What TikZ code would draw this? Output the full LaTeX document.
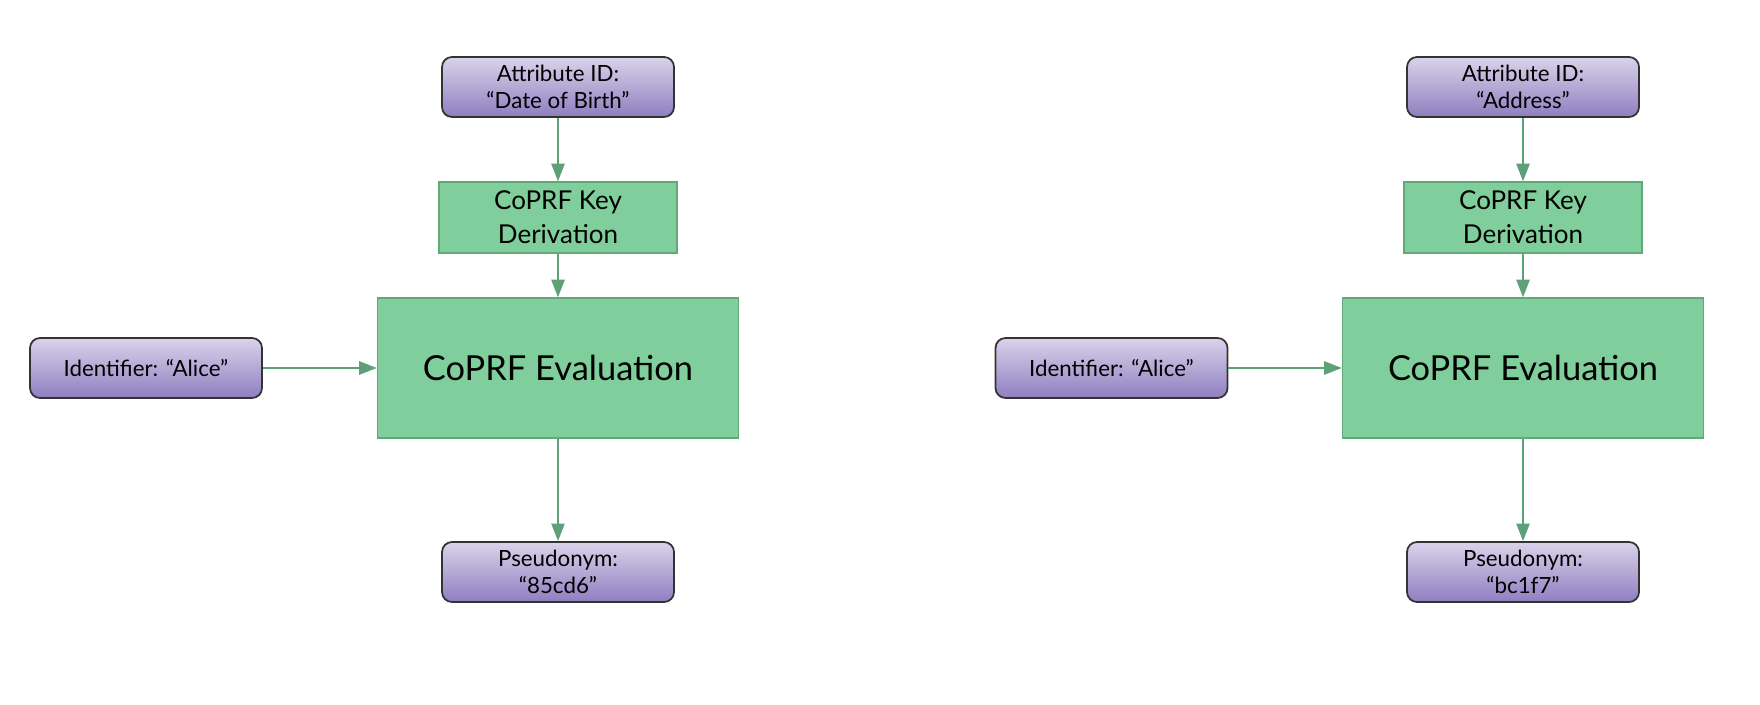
\documentclass[tikz,border=0pt]{standalone}
\usepackage{fontspec}
\setmainfont{Lato}
\usetikzlibrary{arrows.meta}
\definecolor{lavtop}{RGB}{218,211,234}
\definecolor{lavbot}{RGB}{143,126,192}
\definecolor{boxgreen}{RGB}{127,206,155}
\definecolor{edgegreen}{RGB}{96,170,122}
\definecolor{arrowgreen}{RGB}{94,160,120}
\begin{document}
\begin{tikzpicture}[
	databox/.style={rectangle, rounded corners=0.2cm, draw=black!80, line width=1pt,
		top color=lavtop, bottom color=lavbot, minimum width=4.64cm, minimum height=1.2cm,
		align=center, font=\fontsize{12.7}{15}\selectfont, inner sep=0pt},
	keybox/.style={rectangle, draw=edgegreen, line width=0.8pt, fill=boxgreen,
		minimum width=4.76cm, minimum height=1.42cm, align=center,
		font=\fontsize{14.8}{19.5}\selectfont, inner sep=0pt},
	evalbox/.style={rectangle, draw=edgegreen, line width=0.8pt, fill=boxgreen,
		minimum width=7.22cm, minimum height=2.8cm, font=\fontsize{19.6}{23}\selectfont, inner sep=0pt},
	flow/.style={draw=arrowgreen, line width=1.1pt, -{Triangle[length=10pt, width=7.5pt]}}]
	\useasboundingbox (0,0) rectangle (35.2,14.08);
	% left column
	\node (A1) at (11.16, 12.34)	[databox]	{Attribute ID:\\“Date of Birth”};
	\node (K1) at (11.16,  9.73)	[keybox]	{CoPRF Key\\Derivation};
	\node (E1) at (11.16,  6.72)	[evalbox]	{CoPRF Evaluation};
	\node (I1) at ( 2.92,  6.72)	[databox]	{Identifier: “Alice”};
	\node (P1) at (11.16,  2.64)	[databox]	{Pseudonym:\\“85cd6”};
	\draw[flow] (A1) -- (K1);
	\draw[flow] (K1) -- (E1);
	\draw[flow] (I1) -- (E1);
	\draw[flow] (E1) -- (P1);
	% right column
	\node (A2) at (30.46, 12.34)	[databox]	{Attribute ID:\\“Address”};
	\node (K2) at (30.46,  9.73)	[keybox]	{CoPRF Key\\Derivation};
	\node (E2) at (30.46,  6.72)	[evalbox]	{CoPRF Evaluation};
	\node (I2) at (22.23,  6.72)	[databox]	{Identifier: “Alice”};
	\node (P2) at (30.46,  2.64)	[databox]	{Pseudonym:\\“bc1f7”};
	\draw[flow] (A2) -- (K2);
	\draw[flow] (K2) -- (E2);
	\draw[flow] (I2) -- (E2);
	\draw[flow] (E2) -- (P2);
\end{tikzpicture}
\end{document}
